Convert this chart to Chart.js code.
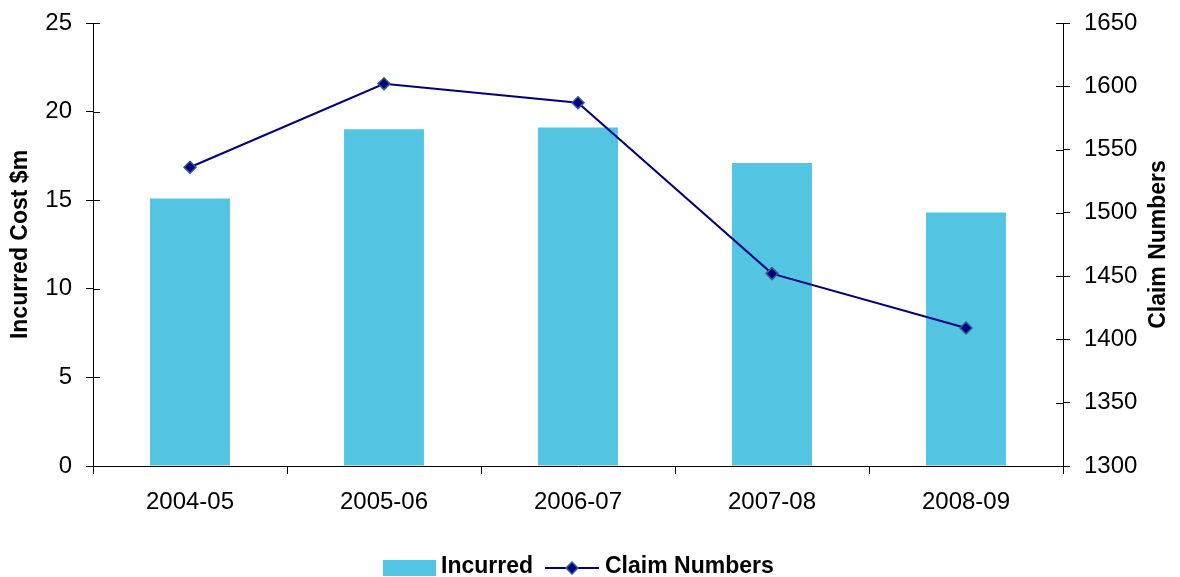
<!DOCTYPE html>
<html>
<head>
<meta charset="utf-8">
<script src="https://cdn.jsdelivr.net/npm/chart.js@4/dist/chart.umd.min.js"></script>
<style>
  html, body { margin: 0; padding: 0; background: #ffffff; }
  #wrap { width: 1180px; height: 577px; position: relative; }
</style>
</head>
<body>
<div id="wrap"><canvas id="c" width="1180" height="577"></canvas></div>
<script>
// Financial years shown on the category axis
const years = ['2004-05', '2005-06', '2006-07', '2007-08', '2008-09'];
// Incurred cost per year, $ millions (left axis)
const incurred = [15.1, 19.0, 19.1, 17.1, 14.3];
// Number of claims per year (right axis)
const claimNumbers = [1536, 1602, 1587, 1452, 1409];
// Axis ranges and steps
const costTicks = { min: 0, max: 25, step: 5 };
const claimTicks = { min: 1300, max: 1650, step: 50 };

const FONT = "'Liberation Sans', Arial, sans-serif";
const TICK_SIZE = 24;
const BAR_COLOR = '#53C5E2';
const LINE_COLOR = '#000080';
const MARKER_EDGE = '#2F5F8F';

// Draws inward halves of the value-axis tick marks, the right axis title and the legend
const extras = {
  id: 'extras',
  afterDraw(chart) {
    const ctx = chart.ctx;
    ctx.save();
    ctx.strokeStyle = '#000';
    ctx.lineWidth = 1;
    ['y', 'y1'].forEach(id => {
      const s = chart.scales[id];
      const dir = id === 'y' ? 1 : -1;
      const x0 = id === 'y' ? s.right : s.left;
      s.ticks.forEach(t => {
        const py = Math.round(s.getPixelForValue(t.value)) + 0.5;
        ctx.beginPath();
        ctx.moveTo(x0, py);
        ctx.lineTo(x0 + dir * 7, py);
        ctx.stroke();
      });
    });

    // Right axis title, reading bottom to top
    const r = chart.scales.y1;
    ctx.fillStyle = '#000';
    ctx.font = 'bold 23px ' + FONT;
    ctx.textAlign = 'center';
    ctx.textBaseline = 'middle';
    ctx.translate(1159, (r.top + r.bottom) / 2);
    ctx.rotate(-Math.PI / 2);
    ctx.fillText('Claim Numbers', 0, 0);
    ctx.restore();

    // Legend
    ctx.save();
    const ds = chart.data.datasets;
    const ly = 567;
    ctx.font = 'bold 23px ' + FONT;
    ctx.textBaseline = 'middle';
    ctx.textAlign = 'left';
    ctx.fillStyle = ds[0].backgroundColor;
    ctx.fillRect(383, ly - 7, 53, 16);
    ctx.fillStyle = '#000';
    ctx.fillText(ds[0].label, 441, ly);
    ctx.strokeStyle = ds[1].borderColor;
    ctx.lineWidth = 2;
    ctx.beginPath();
    ctx.moveTo(545, ly + 1);
    ctx.lineTo(599, ly + 1);
    ctx.stroke();
    ctx.translate(572, ly + 1);
    ctx.rotate(Math.PI / 4);
    ctx.fillStyle = ds[1].pointBackgroundColor;
    ctx.strokeStyle = ds[1].pointBorderColor;
    ctx.lineWidth = 1.5;
    ctx.fillRect(-4.2, -4.2, 8.4, 8.4);
    ctx.strokeRect(-4.2, -4.2, 8.4, 8.4);
    ctx.setTransform(1, 0, 0, 1, 0, 0);
    ctx.fillStyle = '#000';
    ctx.fillText(ds[1].label, 605, ly);
    ctx.restore();
  }
};

// Value axes: fixed width, no extra overflow padding above/below
const fitValueAxis = w => s => { s.width = w; s.paddingTop = 0; s.paddingBottom = 0; };

new Chart(document.getElementById('c'), {
  type: 'bar',
  data: {
    labels: years,
    datasets: [
      {
        type: 'bar',
        label: 'Incurred',
        data: incurred,
        yAxisID: 'y',
        backgroundColor: BAR_COLOR,
        borderWidth: 0,
        categoryPercentage: 1,
        barPercentage: 0.412,
        order: 1
      },
      {
        type: 'line',
        label: 'Claim Numbers',
        data: claimNumbers,
        yAxisID: 'y1',
        borderColor: LINE_COLOR,
        borderWidth: 2,
        tension: 0,
        pointStyle: 'rectRot',
        pointRadius: 6,
        pointBackgroundColor: LINE_COLOR,
        pointBorderColor: MARKER_EDGE,
        pointBorderWidth: 1.5,
        order: 0
      }
    ]
  },
  options: {
    responsive: false,
    animation: false,
    layout: { padding: { top: 23, left: 0, right: 0, bottom: 0 } },
    plugins: { legend: { display: false }, tooltip: { enabled: false } },
    scales: {
      x: {
        grid: { offset: true, drawOnChartArea: false, drawTicks: true, tickLength: 8, color: '#000' },
        border: { display: true, color: '#000', width: 1 },
        ticks: { color: '#000', font: { family: FONT, size: TICK_SIZE }, padding: 14, maxRotation: 0 },
        afterFit(s) { s.height = 111; s.paddingLeft = 0; s.paddingRight = 0; }
      },
      y: {
        position: 'left',
        min: costTicks.min, max: costTicks.max,
        grid: { drawOnChartArea: false, drawTicks: true, tickLength: 7, color: '#000' },
        border: { display: true, color: '#000', width: 1 },
        ticks: { stepSize: costTicks.step, color: '#000', font: { family: FONT, size: TICK_SIZE }, padding: 14 },
        title: { display: true, text: 'Incurred Cost $m', color: '#000', font: { family: FONT, size: 23, weight: 'bold' }, padding: { top: 7, bottom: 0 } },
        afterFit: fitValueAxis(93)
      },
      y1: {
        position: 'right',
        min: claimTicks.min, max: claimTicks.max,
        grid: { drawOnChartArea: false, drawTicks: true, tickLength: 7, color: '#000' },
        border: { display: true, color: '#000', width: 1 },
        ticks: { stepSize: claimTicks.step, color: '#000', font: { family: FONT, size: TICK_SIZE }, padding: 14,
                 callback: v => String(v) },
        afterFit: fitValueAxis(117)
      }
    }
  },
  plugins: [extras]
});
</script>
</body>
</html>
